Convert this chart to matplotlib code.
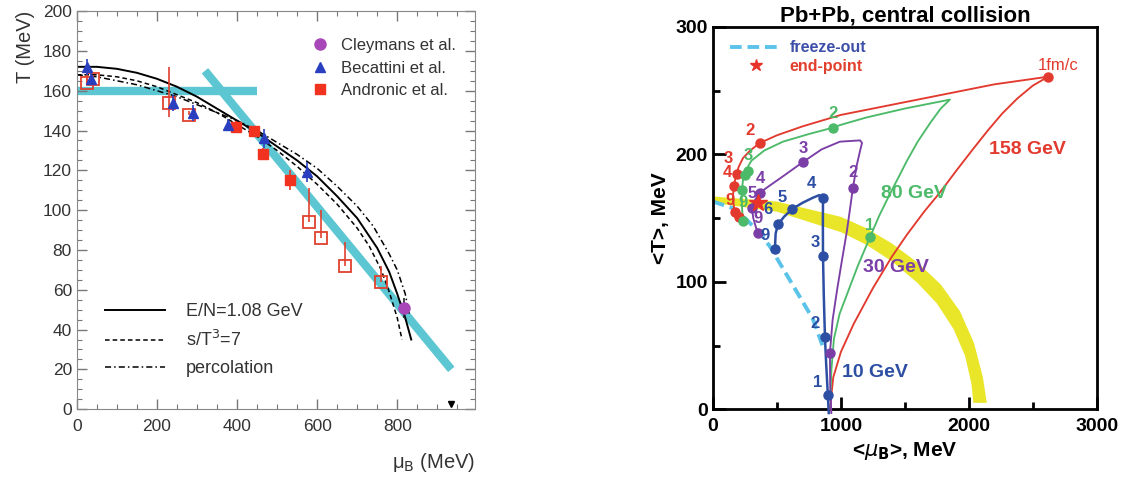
import matplotlib
matplotlib.use("Agg")
import matplotlib.pyplot as plt
from matplotlib.lines import Line2D
from matplotlib.ticker import MultipleLocator

plt.rcParams['font.family'] = ['Liberation Sans', 'DejaVu Sans']

# ---------------- left panel data (T vs mu_B, MeV) ----------------
band_h_mu = [0, 450]
band_h_T = [160, 160]
band_d_mu = [320, 935]
band_d_T = [170, 20]

en_mu = [0, 50, 100, 150, 200, 250, 300, 350, 400, 450, 500, 550, 600, 650,
         700, 750, 780, 800, 820, 835]
en_T = [172, 172, 171, 169, 166, 162, 157, 151, 145, 139, 132, 125, 117, 107,
        96, 81, 69, 58, 46, 35]
st_mu = [0, 50, 100, 150, 200, 250, 300, 350, 400, 450, 500, 550, 600, 650,
         700, 730, 760, 780, 800, 812]
st_T = [168, 168, 167, 165, 162, 158, 154, 149, 143, 137, 130, 122, 113, 103,
        91, 82, 70, 59, 46, 35]
pc_mu = [0, 50, 100, 150, 200, 250, 300, 350, 400, 450, 500, 550, 600, 650,
         700, 740, 780, 800, 820, 830]
pc_T = [168, 167, 165, 163, 160, 157, 153, 149, 145, 140, 134, 128, 121, 112,
        102, 92, 78, 70, 58, 48]

cley_mu = [817]
cley_T = [51]
cley_err = [5]

bec_mu = [25, 35, 240, 290, 378, 468, 575]
bec_T = [172, 166, 154, 149, 143, 136, 119]
bec_err = [4, 3, 4, 4, 3, 5, 5]

andr_mu = [397, 443, 465, 532]
andr_T = [142, 140, 128, 115]
andr_err = [3, 2, 3, 5]

open_mu = [25, 40, 230, 280, 580, 610, 670, 760]
open_T = [164, 166, 154, 148, 94, 86, 72, 64]
open_lo = [0, 0, 7, 0, 0, 0, 0, 0]
open_hi = [2, 2, 18, 2, 17, 14, 12, 8]

limit_mu = [935]
limit_T = [2.5]

# ---------------- right panel data (<T> vs <mu_B>, MeV) ----------------
yel_in_mu = [0, 500, 1000, 1200, 1400, 1600, 1750, 1880, 1970, 2020, 2035]
yel_in_T = [162, 155, 139, 129, 116, 99, 83, 63, 42, 20, 5]
yel_out_mu = [0, 500, 1000, 1200, 1400, 1600, 1780, 1930, 2040, 2110, 2140]
yel_out_T = [167, 163, 151, 142, 130, 115, 98, 77, 52, 25, 5]

fo_mu = [0, 150, 250, 370, 450, 520, 650, 780, 860]
fo_T = [163, 158, 150, 138, 127, 115, 93, 71, 49]

red_mu = [914, 940, 1000, 1100, 1250, 1400, 1516, 1650, 1773, 1900, 2031, 2150,
          2260, 2380, 2500, 2620,
          2200, 1800, 1400, 1000, 700, 500, 367, 290, 234, 200, 180, 162, 156,
          165, 180, 203]
red_T = [0, 25, 45, 67, 95, 120, 137, 155, 170, 187, 204, 219,
         232, 244, 254, 261,
         255, 247, 239, 231, 222, 215, 209, 203, 197, 190, 183, 175, 166,
         158, 153, 151]
red_dot_mu = [2620, 367, 188, 162, 175, 203]
red_dot_T = [261, 209, 185, 175, 155, 151]

grn_mu = [918, 925, 945, 990, 1047, 1130, 1227, 1300, 1383, 1450, 1516, 1600,
          1700, 1780, 1852,
          1500, 1200, 992, 938, 750, 547, 400, 300, 260, 235, 226, 225, 228, 234]
grn_T = [10, 30, 55, 75, 90, 112, 135, 152, 169, 182, 195, 210,
         225, 236, 243,
         236, 229, 223, 221, 216, 210, 203, 195, 188, 180, 172, 165, 157, 148]
grn_dot_mu = [1227, 938, 273, 250, 226, 234]
grn_dot_T = [135, 221, 187, 184, 172, 148]

pur_mu = [925, 916, 914, 935, 969, 1005, 1047, 1075, 1094, 1125, 1150, 1165,
          1150, 992, 850, 703, 550, 450, 367, 320, 305, 315, 335, 352]
pur_T = [-3, 20, 44, 70, 93, 115, 140, 160, 174, 192, 203, 209,
         211, 210, 204, 194, 183, 176, 170, 163, 157, 150, 143, 138]
pur_dot_mu = [914, 1094, 703, 367, 305, 352]
pur_dot_T = [44, 174, 194, 170, 158, 138]

blu_mu = [905, 898, 885, 875, 866, 860, 859, 860, 830, 781, 700, 617, 555,
          508, 490, 484]
blu_T = [-3, 11, 35, 57, 90, 120, 145, 166, 168, 166, 162, 157, 151,
         145, 138, 126]
blu_dot_mu = [898, 875, 859, 860, 617, 508, 484]
blu_dot_T = [11, 57, 120, 166, 157, 145, 126]

end_mu = [352]
end_T = [162]

# label text, mu, T, colour key
num_labels = [
    ('2', 289, 219, 'r'), ('3', 117, 197, 'r'), ('4', 109, 186, 'r'), ('9', 133, 164, 'r'),
    ('2', 938, 232, 'g'), ('3', 273, 199, 'g'), ('1', 1227, 144, 'g'), ('9', 234, 162, 'g'),
    ('3', 703, 205, 'p'), ('2', 1094, 186, 'p'), ('4', 367, 181, 'p'), ('5', 310, 169, 'p'),
    ('9', 352, 150, 'p'),
    ('4', 773, 177, 'b'), ('5', 539, 166, 'b'), ('6', 430, 157, 'b'), ('9', 410, 136, 'b'),
    ('3', 797, 131, 'b'), ('2', 797, 67, 'b'), ('1', 820, 21, 'b'),
]
energy_labels = [
    ('1fm/c', 2700, 270, 'r', 'normal'), ('158 GeV', 2460, 204, 'r', 'bold'),
    ('80 GeV', 1570, 169, 'g', 'bold'), ('30 GeV', 1430, 111, 'p', 'bold'),
    ('10 GeV', 1262, 29, 'b', 'bold'),
]

colors = {'r': '#e23a2e', 'g': '#4dba6a', 'p': '#7a3ea6', 'b': '#2c4ea3'}

fig = plt.figure(figsize=(11.29, 4.82), dpi=100)

# ================= left panel =================
ax1 = fig.add_axes([0.068, 0.151, 0.353, 0.826])
cyan = '#5cc6d2'
ax1.plot(band_h_mu, band_h_T, color=cyan, lw=6, solid_capstyle='butt', zorder=1)
ax1.plot(band_d_mu, band_d_T, color=cyan, lw=6, solid_capstyle='butt', zorder=1)

ax1.plot(en_mu, en_T, color='k', lw=1.4, zorder=2)
ax1.plot(st_mu, st_T, color='k', lw=1.1, ls=(0, (3, 2)), zorder=2)
ax1.plot(pc_mu, pc_T, color='k', lw=1.1, ls=(0, (4, 2, 1, 2)), zorder=2)

ax1.errorbar(open_mu, open_T, yerr=[open_lo, open_hi], fmt='s', ms=8,
             mfc='none', mec='#e0412e', mew=1.3, ecolor='#e0412e', elinewidth=1.2,
             capsize=0, zorder=3)
ax1.errorbar(andr_mu, andr_T, yerr=andr_err, fmt='s', ms=7, color='#f0321e',
             elinewidth=1.2, capsize=0, zorder=4)
ax1.errorbar(bec_mu, bec_T, yerr=bec_err, fmt='^', ms=7, color='#2a3fbf',
             elinewidth=1.2, capsize=0, zorder=4)
ax1.errorbar(cley_mu, cley_T, yerr=cley_err, fmt='o', ms=8, color='#a848b8',
             ecolor='#222222', elinewidth=1.2, capsize=0, zorder=4)
ax1.plot(limit_mu, limit_T, 'v', color='k', ms=5, zorder=4)

ax1.set_xlim(0, 995)
ax1.set_ylim(0, 200)
ax1.xaxis.set_major_locator(MultipleLocator(200))
ax1.xaxis.set_minor_locator(MultipleLocator(50))
ax1.yaxis.set_major_locator(MultipleLocator(20))
ax1.yaxis.set_minor_locator(MultipleLocator(5))
ax1.tick_params(which='both', direction='in', top=True, right=True,
                color='#777777', labelsize=12.5, labelcolor='#333333')
ax1.tick_params(which='major', length=7, width=1)
ax1.tick_params(which='minor', length=3.5, width=0.8)
ax1.tick_params(axis='x', pad=7)
for s in ax1.spines.values():
    s.set_color('#888888')
ax1.set_ylabel('T (MeV)', loc='top', fontsize=14.5, color='#333333', labelpad=6)
ax1.set_xlabel(r'μ$_{\rm B}$ (MeV)', loc='right', fontsize=14.5, color='#333333',
               labelpad=12)

h_top = [Line2D([], [], ls='none', marker='o', ms=8, color='#a848b8'),
         Line2D([], [], ls='none', marker='^', ms=7, color='#2a3fbf'),
         Line2D([], [], ls='none', marker='s', ms=7, color='#f0321e')]
leg1 = ax1.legend(h_top, ['Cleymans et al.', 'Becattini et al.', 'Andronic et al.'],
                  loc='upper right', bbox_to_anchor=(0.99, 0.97), frameon=False,
                  fontsize=12, handlelength=1.0, handletextpad=0.8, labelspacing=0.45,
                  labelcolor='#333333')
ax1.add_artist(leg1)
h_bot = [Line2D([], [], color='k', lw=1.4),
         Line2D([], [], color='k', lw=1.1, ls=(0, (3, 2))),
         Line2D([], [], color='k', lw=1.1, ls=(0, (4, 2, 1, 2)))]
ax1.legend(h_bot, ['E/N=1.08 GeV', r's/T$^3$=7', 'percolation'],
           loc='lower left', bbox_to_anchor=(0.03, 0.04), frameon=False,
           fontsize=13, handlelength=3.3, handletextpad=1.2, labelspacing=0.55,
           labelcolor='#333333')

# ================= right panel =================
ax2 = fig.add_axes([0.6315, 0.151, 0.340, 0.793])
band_mu = yel_in_mu + yel_out_mu[::-1]
band_T = yel_in_T + yel_out_T[::-1]
ax2.fill(band_mu, band_T, color='#e9e62a', lw=0, zorder=1)

ax2.plot(fo_mu, fo_T, color='#5bc3ea', lw=2.8, ls=(0, (3, 1.5)), zorder=2)

for key, mu, T, dmu, dT in [('r', red_mu, red_T, red_dot_mu, red_dot_T),
                            ('g', grn_mu, grn_T, grn_dot_mu, grn_dot_T),
                            ('p', pur_mu, pur_T, pur_dot_mu, pur_dot_T),
                            ('b', blu_mu, blu_T, blu_dot_mu, blu_dot_T)]:
    ax2.plot(mu, T, color=colors[key], lw=1.35 if key != 'b' else 1.8,
             zorder=3, clip_on=False)
    ax2.plot(dmu, dT, 'o', color=colors[key], ms=6.5, zorder=4)

ax2.plot(end_mu, end_T, '*', color='#e8322a', ms=13, zorder=5)

for txt, mu, T, key in num_labels:
    ax2.text(mu, T, txt, color=colors[key], fontsize=12, fontweight='bold',
             ha='center', va='center', zorder=6)
for txt, mu, T, key, w in energy_labels:
    ax2.text(mu, T, txt, color=colors[key], fontsize=14 if w == 'bold' else 12,
             fontweight=w, ha='center', va='center', zorder=6)

ax2.set_xlim(0, 3000)
ax2.set_ylim(0, 300)
ax2.xaxis.set_major_locator(MultipleLocator(1000))
ax2.xaxis.set_minor_locator(MultipleLocator(500))
ax2.yaxis.set_major_locator(MultipleLocator(100))
ax2.yaxis.set_minor_locator(MultipleLocator(50))
ax2.tick_params(which='both', direction='in', width=2, labelsize=14)
ax2.tick_params(which='major', length=9)
ax2.tick_params(which='minor', length=5)
ax2.tick_params(axis='x', pad=6)
for lab in ax2.get_xticklabels() + ax2.get_yticklabels():
    lab.set_fontweight('bold')
for s in ax2.spines.values():
    s.set_linewidth(2)
ax2.set_title('Pb+Pb, central collision', fontsize=16, fontweight='bold', pad=4)
ax2.set_ylabel('<T>, MeV', fontsize=15, fontweight='bold', labelpad=4)
ax2.set_xlabel(r'<$\mathit{\mu}_{\mathbf{B}}$>, MeV', fontsize=15, fontweight='bold',
               labelpad=4)

h_r = [Line2D([], [], color='#5bc3ea', lw=2.8, ls=(0, (3, 1.5))),
       Line2D([], [], ls='none', marker='*', ms=9, color='#e8322a')]
leg2 = ax2.legend(h_r, ['freeze-out', 'end-point'], loc='upper left',
                  bbox_to_anchor=(0.02, 0.99), frameon=False, fontsize=11.5,
                  handlelength=3.2, handletextpad=0.5, labelspacing=0.2,
                  borderaxespad=0.2)
leg2.get_texts()[0].set_color('#3d4fa8')
leg2.get_texts()[1].set_color('#e2402e')
for t in leg2.get_texts():
    t.set_fontweight('bold')

fig.savefig('out.png', dpi=100)
